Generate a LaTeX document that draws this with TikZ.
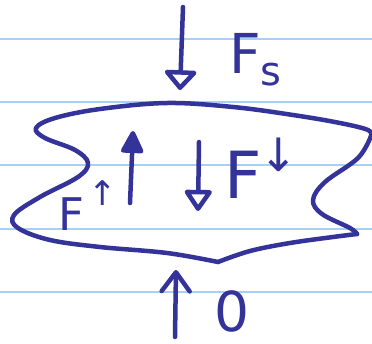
\documentclass[tikz,border=0pt]{standalone}
\usepackage{fontspec}
\setmainfont{DejaVu Sans}
\usetikzlibrary{arrows.meta}
\definecolor{inkblue}{HTML}{33339A}
\definecolor{rule}{HTML}{A8D0F6}
\tikzset{
  ink/.style={draw=inkblue, line width=4.5pt, line cap=round, line join=round},
  ruleline/.style={draw=rule, line width=2pt},
  lbl/.style={text=inkblue, inner sep=0pt, anchor=base west},
}
\begin{document}
\begin{tikzpicture}[x=1pt,y=-1pt]
\useasboundingbox[fill=white] (0,0) rectangle (372,343);
% ruled lines
\foreach \y in {39,102,165,229,292}{
  \draw[ruleline] (0,\y) -- (372,\y);
}
% blob
\draw[ink] plot[smooth, tension=0.6] coordinates {(218,262) (167,253) (100,247) (50,240) (18,228) (14,215) (40,197) (78,177) (88,163) (75,150) (45,138) (36,128) (55,118) (100,109) (167,103) (233,107) (293,115) (340,123) (368,130) (371,136)};
\draw[ink] plot[smooth, tension=0.6] coordinates {(371,136) (358,158) (325,182) (313,200) (322,214) (350,228) (357,234)};
\draw[ink] plot[smooth, tension=0.6] coordinates {(357,234) (333,237) (290,243) (250,251) (218,262)};
% arrow endpoints
\coordinate (topA) at (183,7);
\coordinate (topB) at (180,90);
\coordinate (upA) at (130,203);
\coordinate (upB) at (133,131);
\coordinate (dnA) at (199,142);
\coordinate (dnB) at (198,211);
\coordinate (botA) at (175,337);
\coordinate (botB) at (176,270);
\draw[ink, -{Triangle[open, length=21pt, width=36pt, round]}] (topA) -- (topB);
\draw[ink, -{Triangle[length=25pt, width=24pt, round]}] (upA) -- (upB);
\draw[ink, -{Triangle[open, length=23pt, width=30pt, round]}] (dnA) -- (dnB);
\draw[ink, -{Straight Barb[length=19pt, width=28pt, round]}] (botA) -- (botB);
% labels
\node[lbl] (fs) at (229,73) {\fontsize{55}{55}\selectfont F\raisebox{-12pt}{\fontsize{40}{40}\selectfont s}};
\node[lbl] (fup) at (58,230) {\fontsize{45}{45}\selectfont F\hspace{4pt}\raisebox{25pt}{\fontsize{34}{34}\selectfont ↑}};
\node[lbl] (fdn) at (224,198) {\fontsize{65}{65}\selectfont F\hspace{-2pt}\raisebox{27pt}{\fontsize{46}{46}\selectfont ↓}};
\node[lbl] (zero) at (214,331) {\fontsize{55}{55}\selectfont 0};
\end{tikzpicture}
\end{document}
